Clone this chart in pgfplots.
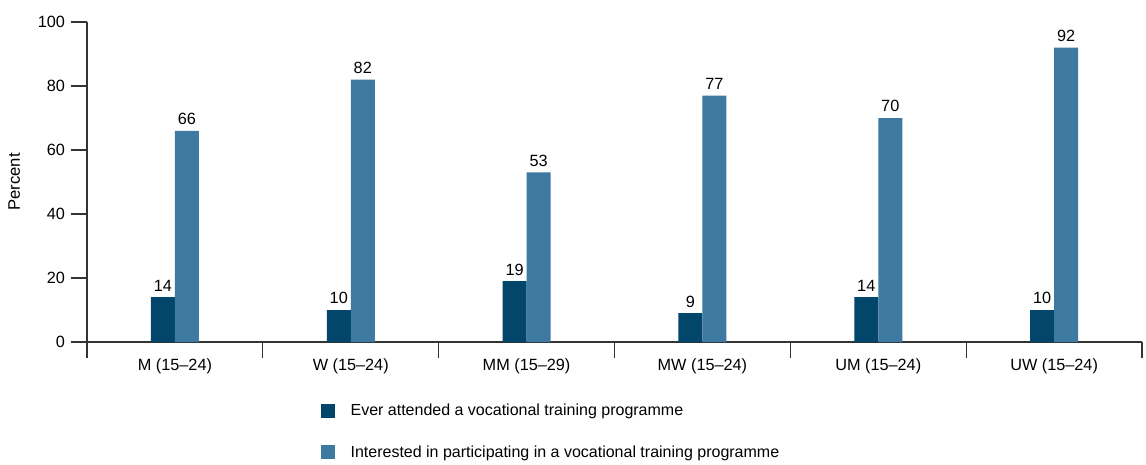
\documentclass[border=0pt]{standalone}
\usepackage{pgfplots}
\pgfplotsset{compat=1.18}
\usepackage{fontspec}
\setmainfont{Liberation Sans}
\definecolor{darkbar}{HTML}{02466C}
\definecolor{lightbar}{HTML}{3D79A0}
\definecolor{axisgray}{HTML}{333333}

\begin{document}
\begin{tikzpicture}[x=1pt,y=1pt]
\begin{axis}[
  scale only axis,
  width=791.25pt, height=240pt,
  ybar=0pt, bar width=18pt,
  xmin=-0.5, xmax=5.5, ymin=0, ymax=100,
  axis lines*=left,
  axis line style={axisgray, line width=0.9pt},
  every tick/.style={axisgray, line width=0.9pt},
  tick align=outside, major tick length=12pt,
  xtick={-0.5,0.5,1.5,2.5,3.5,4.5,5.5},
  x tick label as interval,
  xticklabels={M (15--24),W (15--24),MM (15--29),MW (15--24),UM (15--24),UW (15--24)},
  ytick={0,20,40,60,80,100},
  ylabel={Percent},
  ylabel style={at={(rel axis cs:0,0.5)}, anchor=center, yshift=54.5pt, font=\fontsize{12.5}{14}\selectfont},
  tick label style={font=\fontsize{12.2}{14}\selectfont, text=black},
  xticklabel style={yshift=3pt},
  yticklabel style={xshift=-1pt},
  /pgf/number format/assume math mode=true,
  nodes near coords,
  every node near coord/.append style={font=\fontsize{12.2}{14}\selectfont, text=black, yshift=1pt},
  legend style={at={(rel axis cs:0.218,-0.176)}, anchor=north west, draw=none, fill=none,
    font=\fontsize{12}{14}\selectfont, row sep=17pt, cells={anchor=west}},
  legend cell align=left,
  legend image code/.code={\fill[#1] (0pt,-5.25pt) rectangle (10.5pt,5.25pt); \path[draw=none,fill=none] (20pt,0pt);},
]
\addplot[fill=darkbar, draw=none] coordinates {(0,14) (1,10) (2,19) (3,9) (4,14) (5,10)};
\addlegendentry{Ever attended a vocational training programme}
\addplot[fill=lightbar, draw=none] coordinates {(0,66) (1,82) (2,53) (3,77) (4,70) (5,92)};
\addlegendentry{Interested in participating in a vocational training programme}
\end{axis}
\path ([shift={(-65.25pt,-91.5pt)}]current axis.south west) rectangle ([shift={(3pt,16.5pt)}]current axis.north east);
\end{tikzpicture}
\end{document}
